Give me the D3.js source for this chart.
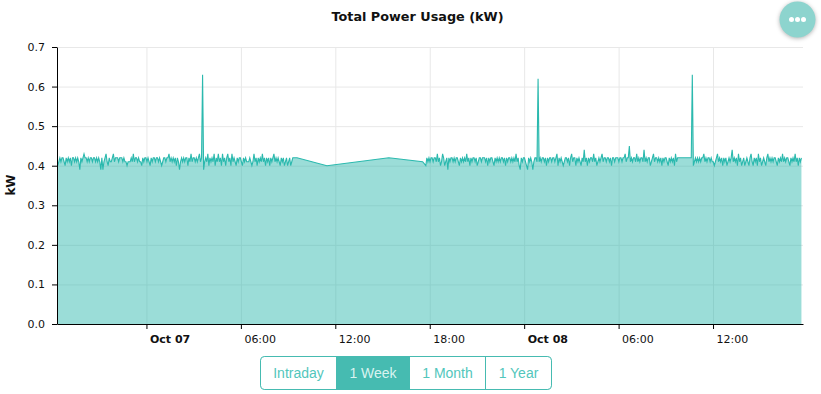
<!DOCTYPE html>
<html lang="en">
<head>
  <meta charset="UTF-8">
  <title>Total Power Usage (kW)</title>
  <script src="https://d3js.org/d3.v7.min.js"></script>
  <style>
    html, body { margin: 0; padding: 0; background: #fff; overflow: hidden; }
    svg { display: block; font-family: "DejaVu Sans", sans-serif; }
    .axis { font-family: "DejaVu Sans", sans-serif; }
    .axis text { font-size: 11px; fill: #111; }
    .axis path, .axis line { stroke: #000; }
    .grid line { stroke: #e8e8e8; }
    .grid path { display: none; }
    .title { font-size: 12.8px; font-weight: bold; fill: #111; }
    .y-label { font-size: 12px; font-weight: bold; fill: #111; }
    .btn text { font-family: "Liberation Sans", Arial, sans-serif; font-size: 14px; }
  </style>
</head>
<body>
  <svg width="821" height="394"></svg>

  <script>
    const yTicks = [0, 0.1, 0.2, 0.3, 0.4, 0.5, 0.6, 0.7];
    const xTicks = ['2018-10-07 00:00', '2018-10-07 06:00', '2018-10-07 12:00', '2018-10-07 18:00',
      '2018-10-08 00:00', '2018-10-08 06:00', '2018-10-08 12:00'];
    const buttonLabels = ['Intraday', '1 Week', '1 Month', '1 Year'];
    const activeButton = '1 Week';

    // readings every 4 minutes, before and after the logging gap
    const run1Start = '2018-10-06 18:22';
    const run1Values = [
      0.40,0.41,0.42,0.41,0.42,0.42,0.41,0.40,0.42,0.41,0.42,0.41,0.42,0.40,0.42,0.42,0.41,0.42,0.41,0.42,
      0.41,0.39,0.42,0.41,0.42,0.43,0.42,0.42,0.41,0.42,0.41,0.42,0.42,0.41,0.42,0.42,0.41,0.42,0.41,0.42,
      0.41,0.39,0.42,0.39,0.41,0.42,0.43,0.41,0.40,0.42,0.41,0.41,0.42,0.43,0.41,0.42,0.42,0.42,0.41,0.42,
      0.42,0.42,0.41,0.42,0.41,0.41,0.40,0.41,0.41,0.41,0.42,0.41,0.43,0.41,0.42,0.42,0.41,0.42,0.41,0.41,
      0.40,0.42,0.41,0.42,0.42,0.41,0.42,0.41,0.40,0.42,0.41,0.42,0.42,0.41,0.42,0.42,0.41,0.42,0.41,0.40,
      0.41,0.42,0.42,0.41,0.42,0.42,0.43,0.41,0.42,0.41,0.42,0.41,0.42,0.40,0.42,0.41,0.39,0.41,0.42,0.41,
      0.42,0.41,0.42,0.42,0.40,0.42,0.41,0.43,0.41,0.42,0.42,0.41,0.42,0.41,0.42,0.43,0.41,0.42,0.63,0.39,
      0.41,0.42,0.41,0.43,0.40,0.42,0.41,0.42,0.41,0.43,0.40,0.42,0.41,0.43,0.41,0.42,0.40,0.43,0.41,0.42,
      0.40,0.42,0.43,0.41,0.42,0.40,0.43,0.41,0.42,0.41,0.40,0.42,0.41,0.42,0.42,0.41,0.40,0.42,0.41,0.42,
      0.41,0.41,0.41,0.42,0.41,0.40,0.41,0.43,0.41,0.42,0.40,0.42,0.41,0.42,0.41,0.43,0.41,0.42,0.40,0.42,
      0.41,0.42,0.40,0.42,0.41,0.42,0.43,0.41,0.42,0.41,0.42,0.41,0.40,0.42,0.41,0.42,0.40,0.41,0.42,0.40,
      0.41,0.42,0.40,0.41,0.42,0.42,0.42,0.42
    ];
    const gapTimes = ['2018-10-07 09:34', '2018-10-07 11:28', '2018-10-07 15:24', '2018-10-07 17:33'];
    const gapValues = [0.42, 0.40, 0.42, 0.41];
    const run2Start = '2018-10-07 17:45';
    const run2Values = [
      0.40,0.42,0.41,0.42,0.41,0.42,0.42,0.41,0.42,0.42,0.41,0.43,0.41,0.42,0.40,0.41,0.43,0.42,0.40,0.41,
      0.42,0.39,0.42,0.41,0.42,0.42,0.41,0.42,0.41,0.42,0.42,0.41,0.40,0.42,0.41,0.42,0.41,0.42,0.41,0.43,
      0.41,0.42,0.40,0.42,0.41,0.42,0.42,0.41,0.42,0.40,0.41,0.42,0.42,0.41,0.42,0.42,0.42,0.41,0.42,0.40,
      0.42,0.41,0.42,0.42,0.41,0.40,0.42,0.41,0.42,0.41,0.42,0.41,0.42,0.42,0.41,0.42,0.40,0.42,0.41,0.42,
      0.42,0.41,0.42,0.41,0.42,0.41,0.43,0.41,0.42,0.40,0.39,0.42,0.41,0.42,0.42,0.41,0.40,0.39,0.42,0.41,
      0.42,0.41,0.39,0.41,0.42,0.42,0.41,0.62,0.41,0.42,0.41,0.42,0.42,0.41,0.42,0.40,0.42,0.41,0.42,0.42,
      0.41,0.42,0.42,0.41,0.42,0.43,0.40,0.42,0.41,0.42,0.41,0.40,0.41,0.42,0.42,0.41,0.42,0.40,0.42,0.43,
      0.41,0.42,0.42,0.40,0.42,0.41,0.42,0.41,0.40,0.42,0.41,0.44,0.41,0.42,0.40,0.42,0.41,0.42,0.42,0.41,
      0.43,0.41,0.42,0.40,0.41,0.42,0.41,0.42,0.43,0.41,0.42,0.42,0.41,0.42,0.42,0.41,0.42,0.40,0.42,0.42,
      0.41,0.42,0.42,0.42,0.41,0.42,0.42,0.41,0.42,0.42,0.43,0.41,0.42,0.42,0.45,0.41,0.42,0.41,0.42,0.42,
      0.41,0.43,0.41,0.42,0.41,0.42,0.42,0.41,0.44,0.41,0.42,0.41,0.42,0.42,0.40,0.41,0.42,0.43,0.41,0.42,
      0.42,0.41,0.42,0.41,0.42,0.40,0.42,0.41,0.42,0.42,0.41,0.40,0.42,0.41,0.42,0.41,0.42,0.40,0.43,0.41,
      0.42,0.42,0.42,0.42,0.42,0.42,0.42,0.42,0.42,0.42,0.42,0.42,0.42,0.42,0.63,0.40,0.41,0.42,0.41,0.42,
      0.41,0.42,0.41,0.42,0.42,0.43,0.41,0.42,0.41,0.42,0.42,0.41,0.42,0.41,0.41,0.40,0.41,0.42,0.43,0.41,
      0.42,0.41,0.42,0.40,0.42,0.41,0.42,0.40,0.41,0.42,0.41,0.42,0.44,0.41,0.42,0.41,0.42,0.40,0.43,0.41,
      0.42,0.40,0.41,0.42,0.40,0.41,0.42,0.41,0.40,0.42,0.43,0.41,0.40,0.42,0.41,0.42,0.40,0.43,0.41,0.42,
      0.40,0.41,0.42,0.41,0.40,0.42,0.43,0.41,0.42,0.41,0.42,0.41,0.42,0.42,0.41,0.40,0.42,0.41,0.42,0.41,
      0.43,0.41,0.42,0.41,0.42,0.42,0.41,0.40,0.42,0.41,0.42,0.41,0.43,0.41,0.42,0.40,0.42,0.41,0.42
    ];

    const parseTime = d3.timeParse('%Y-%m-%d %H:%M');
    const stepMinutes = 4;
    const toPoints = (start, values) => values.map((v, i) => ({
      t: d3.timeMinute.offset(parseTime(start), i * stepMinutes),
      v
    }));
    const data = [
      ...toPoints(run1Start, run1Values),
      ...gapTimes.map((t, i) => ({ t: parseTime(t), v: gapValues[i] })),
      ...toPoints(run2Start, run2Values)
    ];

    const svg = d3.select('svg');
    const plotLeft = 57, plotRight = 803, plotTop = 47, plotBottom = 324;
    const teal = '#2bb9ae';

    const x = d3.scaleTime()
      .domain([parseTime('2018-10-06 18:19'), parseTime('2018-10-08 17:43')])
      .range([plotLeft, plotRight]);
    const y = d3.scaleLinear().domain([0, 0.7]).range([plotBottom, plotTop]);
    const xTickDates = xTicks.map(parseTime);

    // Grid lines
    svg.append('g')
      .attr('class', 'grid')
      .attr('transform', `translate(0, ${plotBottom})`)
      .call(d3.axisBottom(x).tickValues(xTickDates).tickSize(-(plotBottom - plotTop)).tickFormat(''));
    svg.append('g')
      .attr('class', 'grid')
      .attr('transform', `translate(${plotLeft}, 0)`)
      .call(d3.axisLeft(y).tickValues(yTicks.slice(1)).tickSize(-(plotRight - plotLeft)).tickFormat(''));

    // Area and line
    const area = d3.area().x(d => x(d.t)).y0(plotBottom).y1(d => y(d.v));
    const line = d3.line().x(d => x(d.t)).y(d => y(d.v));
    svg.append('path')
      .datum(data)
      .attr('d', area)
      .attr('fill', '#26b5aa')
      .attr('fill-opacity', 0.46);
    svg.append('path')
      .datum(data)
      .attr('d', line)
      .attr('fill', 'none')
      .attr('stroke', teal)
      .attr('stroke-width', 1.1);

    // Axes
    const isMidnight = d => d.getHours() === 0;
    const xAxis = svg.append('g')
      .attr('class', 'axis')
      .attr('transform', `translate(0, ${plotBottom})`)
      .call(d3.axisBottom(x)
        .tickValues(xTickDates)
        .tickSizeOuter(0)
        .tickSizeInner(5)
        .tickFormat(d => isMidnight(d) ? d3.timeFormat('%b %d')(d) : d3.timeFormat('%H:%M')(d)));
    xAxis.selectAll('text')
      .attr('text-anchor', 'start')
      .attr('dx', 3)
      .attr('y', 11)
      .style('font-weight', d => isMidnight(d) ? 'bold' : 'normal');

    svg.append('g')
      .attr('class', 'axis')
      .attr('transform', `translate(${plotLeft}, 0)`)
      .call(d3.axisLeft(y)
        .tickValues(yTicks)
        .tickSizeInner(5)
        .tickSizeOuter(0)
        .tickPadding(7)
        .tickFormat(d3.format('.1f')));

    // Title and y label
    svg.append('text')
      .attr('class', 'title')
      .attr('x', 417.5)
      .attr('y', 21)
      .attr('text-anchor', 'middle')
      .text('Total Power Usage (kW)');
    svg.append('text')
      .attr('class', 'y-label')
      .attr('transform', 'translate(15, 185) rotate(-90)')
      .attr('text-anchor', 'middle')
      .text('kW');

    // Range buttons
    const edges = [260.5, 336.5, 409.5, 485.5, 551.5];
    const btnTop = 356.5, btnHeight = 33;
    const defs = svg.append('defs');
    defs.append('clipPath')
      .attr('id', 'btn-clip')
      .append('rect')
      .attr('x', edges[0])
      .attr('y', btnTop)
      .attr('width', edges[4] - edges[0])
      .attr('height', btnHeight)
      .attr('rx', 4);

    const buttons = svg.append('g')
      .selectAll('g')
      .data(buttonLabels)
      .enter()
      .append('g')
      .attr('class', 'btn');
    buttons.append('rect')
      .attr('clip-path', 'url(#btn-clip)')
      .attr('x', (d, i) => edges[i])
      .attr('y', btnTop)
      .attr('width', (d, i) => edges[i + 1] - edges[i])
      .attr('height', btnHeight)
      .attr('fill', d => d === activeButton ? '#46bbb1' : '#fff')
      .attr('stroke', '#46bbb1');
    buttons.append('text')
      .attr('x', (d, i) => (edges[i] + edges[i + 1]) / 2)
      .attr('y', 378)
      .attr('text-anchor', 'middle')
      .attr('fill', d => d === activeButton ? '#d9f3f0' : '#52c6bc')
      .text(d => d);
    svg.append('rect')
      .attr('x', edges[0])
      .attr('y', btnTop)
      .attr('width', edges[4] - edges[0])
      .attr('height', btnHeight)
      .attr('rx', 4)
      .attr('fill', 'none')
      .attr('stroke', '#46bbb1');

    // Floating menu button
    const menu = svg.append('g').attr('transform', 'translate(797.5, 19.5)');
    menu.append('circle')
      .attr('r', 18)
      .attr('fill', '#8dd4ce')
      .style('filter', 'drop-shadow(0 1px 2px rgba(0,0,0,0.3))');
    menu.selectAll('.dot')
      .data([-6, 0, 6])
      .enter()
      .append('circle')
      .attr('class', 'dot')
      .attr('cx', d => d)
      .attr('r', 2.5)
      .attr('fill', '#fff');
  </script>

</body>
</html>
